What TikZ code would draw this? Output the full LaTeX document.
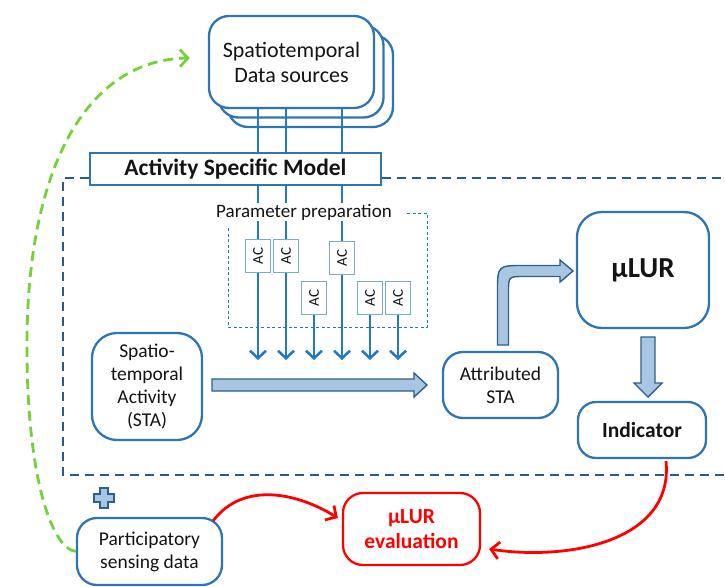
\documentclass[tikz,border=0pt]{standalone}
\usepackage{fontspec}
\setmainfont{Carlito}
\usetikzlibrary{arrows.meta,calc}
\definecolor{boxblue}{RGB}{46,117,182}
\definecolor{lineblue}{RGB}{33,122,196}
\definecolor{dashblue}{RGB}{38,92,140}
\definecolor{fillblue}{RGB}{168,198,226}
\definecolor{edgeblue}{RGB}{45,95,140}
\definecolor{grn}{RGB}{115,210,60}
\definecolor{acblue}{RGB}{120,170,215}
\definecolor{txt}{RGB}{20,20,20}
\begin{document}
\begin{tikzpicture}[x=1pt,y=-1pt,
  box/.style={draw=boxblue, line width=2.3pt, rounded corners=20pt, fill=white, align=center,
    font=\fontsize{19.5}{23}\selectfont, text=txt, inner sep=0pt},
  acbox/.style={draw=acblue, line width=0.9pt, fill=white, minimum width=25pt, minimum height=33pt,
    inner sep=0pt, font=\fontsize{15}{16}\selectfont, text=txt},
  flow/.style={draw=lineblue, line width=2.6pt, -{Straight Barb[length=7.5pt,width=16pt]}},
  fat/.style={draw=edgeblue, fill=fillblue, line width=1.4pt, line join=miter},
  redarrow/.style={draw=red, line width=2.8pt, -{Straight Barb[length=8pt,width=17pt]}},
  greenarrow/.style={draw=grn, line width=2.8pt, dash pattern=on 10pt off 6pt, -{Straight Barb[length=8pt,width=17pt]}},
  bigdash/.style={draw=dashblue, line width=2.2pt, dash pattern=on 9pt off 6pt},
  smalldash/.style={draw=lineblue, line width=1pt, dash pattern=on 3pt off 2.5pt}
]
\useasboundingbox (0,0) rectangle (725,586);

% data source stack
\node[box, minimum width=165pt, minimum height=92pt] (ds3) at (310.5,81) {};
\node[box, minimum width=165pt, minimum height=92pt] (ds2) at (301,71.5) {};
\node[box, minimum width=165pt, minimum height=92pt, font=\fontsize{22}{25}\selectfont] (ds) at (291.5,62) {Spatiotemporal\\Data sources};

% helper coordinates
\coordinate (frametop) at (0,178);
\coordinate (tipy) at (0,360);

% column coordinates
\coordinate (c1) at (258,256);
\coordinate (c2) at (286,256);
\coordinate (c3) at (314,298);
\coordinate (c4) at (342,258);
\coordinate (c5) at (370,298);
\coordinate (c6) at (398,298);

\foreach \c in {c1,c2,c4} \draw[flow] (\c |- ds.south) -- (\c |- tipy);
\foreach \c in {c3,c5,c6} \draw[flow] (\c) -- (\c |- tipy);

\node[draw=boxblue, line width=2.3pt, fill=white, minimum width=291pt, minimum height=32pt,
  inner sep=0pt, text=txt, font=\fontsize{23.5}{26}\selectfont\bfseries] (asm) at (235.5,169) {Activity Specific Model};

\draw[bigdash] (asm.west |- frametop) -- (63,178) -- (63,475) -- (730,475);
\draw[bigdash] (asm.east |- frametop) -- (730,178);

% parameter preparation
\node[fill=white, inner sep=1pt, text=txt, font=\fontsize{19}{21}\selectfont] (pp) at (304,212) {Parameter preparation};
\draw[smalldash] (407,213) -- (427,213) -- (427,327) -- (228,327) -- (228,228);

\foreach \c [count=\i] in {c1,c2,c3,c4,c5,c6}
  \node[acbox] (ac\i) at (\c) {\rotatebox{90}{AC}};

% main boxes
\node[box, rounded corners=25pt, minimum width=110pt, minimum height=107pt] (sta) at (147,386.5)
  {Spatio-\\temporal\\Activity\\(STA)};
\node[box, minimum width=115pt, minimum height=66pt] (att) at (500.5,385) {Attributed\\STA};
\node[box, rounded corners=25pt, minimum width=132pt, minimum height=116pt,
  font=\fontsize{29}{34}\selectfont\bfseries] (mlur) at (643,270) {µLUR};
\node[box, rounded corners=18pt, minimum width=128pt, minimum height=56pt,
  font=\fontsize{21.5}{25}\selectfont\bfseries] (ind) at (642,430) {Indicator};
\node[box, minimum width=145pt, minimum height=67pt] (psd) at (149.5,551.5) {Participatory\\sensing data};
\node[box, draw=red, text=red, minimum width=137pt, minimum height=72pt,
  font=\fontsize{21.5}{25}\selectfont\bfseries] (eval) at (411.5,529) {µLUR\\evaluation};

% fat arrows
\draw[fat] (212,379) -- (414,379) -- (414,373) -- (427,385) -- (414,397) -- (414,391) -- (212,391) -- cycle;
\draw[fat] (497.5,345) -- (497.5,292) .. controls (497.5,265.5) .. (524,265.5) -- (560,265.5) -- (560,260)
  -- (573,271) -- (560,282) -- (560,276.5) -- (524,276.5) .. controls (508.5,276.5) .. (508.5,292)
  -- (508.5,345) -- cycle;
\draw[fat] (641,337) -- (655,337) -- (655,383) -- (662,383) -- (648,397) -- (634,383) -- (641,383) -- cycle;

% plus
\draw[fat] (100,488) -- (108,488) -- (108,494) -- (114,494) -- (114,502) -- (108,502) -- (108,508)
  -- (100,508) -- (100,502) -- (94,502) -- (94,494) -- (100,494) -- cycle;

% red arrows
\draw[redarrow] ($(psd.north east)+(-10,4)$) .. controls +(30,-40) and +(-40,-25) .. ($(eval.west)+(-4,-11)$);
\draw[redarrow] ($(ind.south)+(24,2)$) .. controls +(8,80) and +(80,12) .. ($(eval.east)+(8,20)$);

% green dashed arrow
\draw[greenarrow] (psd.west) .. controls (50,548) and (26,470) .. (27,340)
  .. controls (28,170) and (85,60) .. ($(ds.west)+(-18,-4)$);
\end{tikzpicture}
\end{document}
